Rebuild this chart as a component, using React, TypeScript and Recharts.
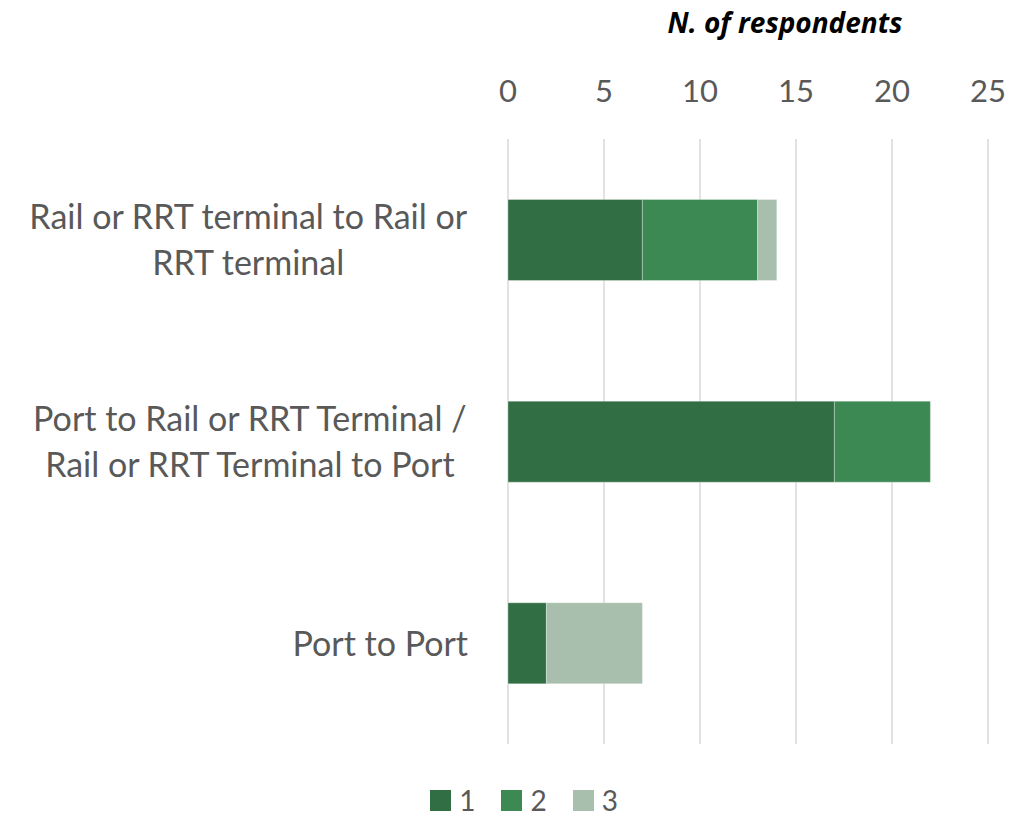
import React from 'react';
import { BarChart, Bar, XAxis, YAxis, CartesianGrid, Legend } from 'recharts';

const labelLines = [
  ['Rail or RRT terminal to Rail or', 'RRT terminal'],
  ['Port to Rail or RRT Terminal /', 'Rail or RRT Terminal to Port'],
  ['Port to Port'],
];
const categories = labelLines.map((l) => l.join(' '));
const series1 = [7, 17, 2];
const series2 = [6, 5, 0];
const series3 = [1, 0, 5];
const xTicks = [0, 5, 10, 15, 20, 25];
const seriesNames = ['1', '2', '3'];

const colors = ['#326e43', '#3d8954', '#a7bfac'];
const textColor = '#595959';
const font = 'Lato, "Open Sans", sans-serif';
const labelSize = 34;

const data = categories.map((name, i) => ({
  name,
  s1: series1[i],
  s2: series2[i],
  s3: series3[i],
}));

let ctx: CanvasRenderingContext2D | null = null;
const measure = (t: string) => {
  if (!ctx) ctx = document.createElement('canvas').getContext('2d');
  if (!ctx) return t.length * 15;
  ctx.font = `${labelSize}px Lato`;
  return ctx.measureText(t).width;
};

const CategoryTick = (props: any) => {
  const { y, payload } = props;
  const idx = categories.indexOf(payload.value);
  const lines = labelLines[idx] || [payload.value];
  const right = 468;
  const w = Math.max(...lines.map(measure));
  const cx = right - w / 2;
  const lh = 46;
  const start = y - 1 - ((lines.length - 1) * lh) / 2;
  return (
    <g>
      {lines.map((l, i) => (
        <text
          key={i}
          x={cx}
          y={start + i * lh}
          textAnchor="middle"
          dominantBaseline="central"
          fontSize={labelSize}
          fontFamily={font}
          fill={textColor}
        >
          {l}
        </text>
      ))}
    </g>
  );
};

const ValueTick = (props: any) => {
  const { x, payload } = props;
  return (
    <text x={x} y={90} textAnchor="middle" dominantBaseline="central" fontSize={31} fontFamily={font} fill={textColor}>
      {payload.value}
    </text>
  );
};

const LegendContent = () => (
  <div style={{ display: 'flex', justifyContent: 'center', paddingLeft: 16, fontFamily: font, fontSize: 28, color: textColor, lineHeight: '28px', height: 28 }}>
    {seriesNames.map((n, i) => (
      <div key={n} style={{ display: 'flex', alignItems: 'center', marginRight: i < 2 ? 26 : 0 }}>
        <span style={{ width: 21, height: 21, background: colors[i], display: 'inline-block', marginRight: 8 }} />
        <span>{n}</span>
      </div>
    ))}
  </div>
);

export default function App() {
  return (
    <div style={{ position: 'absolute', left: 0, top: 0 }}>
      <BarChart
        width={1032}
        height={818}
        data={data}
        layout="vertical"
        barCategoryGap="30%"
        margin={{ top: 79, right: 44, bottom: 46, left: 0 }}
      >
        <text x={785} y={22} textAnchor="middle" dominantBaseline="central" fontSize={28} fontWeight="bold" fontStyle="italic" fontFamily='"Open Sans", sans-serif' fill="#000">
          N. of respondents
        </text>
        <CartesianGrid horizontal={false} stroke="#d9d9d9" strokeWidth={1.5} />
        <XAxis
          type="number"
          orientation="top"
          domain={[0, 25]}
          ticks={xTicks}
          height={60}
          axisLine={false}
          tickLine={false}
          tick={<ValueTick />}
          interval={0}
        />
        <YAxis type="category" dataKey="name" width={508} axisLine={false} tickLine={false} tick={<CategoryTick />} interval={0} />
        <Legend
          verticalAlign="bottom"
          content={<LegendContent />}
          wrapperStyle={{ position: 'absolute', top: 786, left: 0, width: 1032, bottom: 'auto' }}
        />
        <Bar dataKey="s1" name="1" stackId="a" fill={colors[0]} stroke="#ffffff" strokeOpacity={0.3} isAnimationActive={false} />
        <Bar dataKey="s2" name="2" stackId="a" fill={colors[1]} stroke="#ffffff" strokeOpacity={0.3} isAnimationActive={false} />
        <Bar dataKey="s3" name="3" stackId="a" fill={colors[2]} stroke="#ffffff" strokeOpacity={0.3} isAnimationActive={false} />
      </BarChart>
    </div>
  );
}
